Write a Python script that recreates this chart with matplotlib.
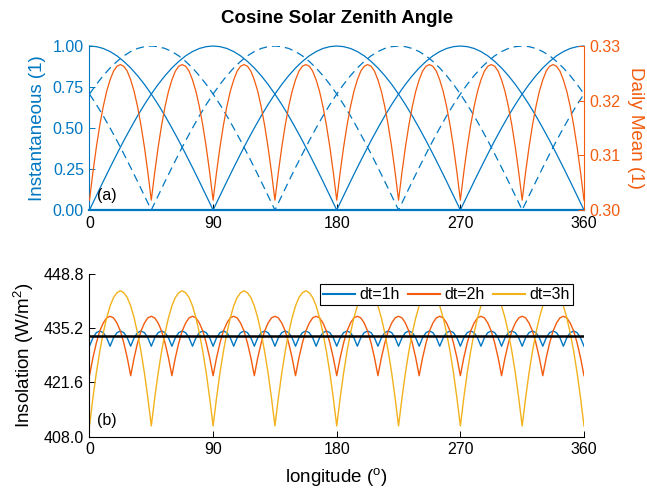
import matplotlib
matplotlib.use('Agg')
import matplotlib.pyplot as plt
import numpy as np

plt.rcParams['font.family'] = ['Liberation Sans', 'DejaVu Sans']
plt.rcParams['mathtext.default'] = 'regular'

# ---------------- data ----------------
# top panel: longitude grid (5 deg) for instantaneous curves
lon_inst = np.arange(0, 361, 5)

inst_sin = [0, .087, .174, .259, .342, .423, .500, .574, .643, .707, .766, .819, .866, .906, .940, .966, .985, .996, 1.0,
            .996, .985, .966, .940, .906, .866, .819, .766, .707, .643, .574, .500, .423, .342, .259, .174, .087, 0,
            .087, .174, .259, .342, .423, .500, .574, .643, .707, .766, .819, .866, .906, .940, .966, .985, .996, 1.0,
            .996, .985, .966, .940, .906, .866, .819, .766, .707, .643, .574, .500, .423, .342, .259, .174, .087, 0]

inst_cos = [1.0, .996, .985, .966, .940, .906, .866, .819, .766, .707, .643, .574, .500, .423, .342, .259, .174, .087, 0,
            .087, .174, .259, .342, .423, .500, .574, .643, .707, .766, .819, .866, .906, .940, .966, .985, .996, 1.0,
            .996, .985, .966, .940, .906, .866, .819, .766, .707, .643, .574, .500, .423, .342, .259, .174, .087, 0,
            .087, .174, .259, .342, .423, .500, .574, .643, .707, .766, .819, .866, .906, .940, .966, .985, .996, 1.0]

inst_dash1 = [.707, .766, .819, .866, .906, .940, .966, .985, .996, 1.0, .996, .985, .966, .940, .906, .866, .819, .766,
              .707, .643, .574, .500, .423, .342, .259, .174, .087, 0, .087, .174, .259, .342, .423, .500, .574, .643,
              .707, .766, .819, .866, .906, .940, .966, .985, .996, 1.0, .996, .985, .966, .940, .906, .866, .819, .766,
              .707, .643, .574, .500, .423, .342, .259, .174, .087, 0, .087, .174, .259, .342, .423, .500, .574, .643,
              .707]

inst_dash2 = [.707, .643, .574, .500, .423, .342, .259, .174, .087, 0, .087, .174, .259, .342, .423, .500, .574, .643,
              .707, .766, .819, .866, .906, .940, .966, .985, .996, 1.0, .996, .985, .966, .940, .906, .866, .819, .766,
              .707, .643, .574, .500, .423, .342, .259, .174, .087, 0, .087, .174, .259, .342, .423, .500, .574, .643,
              .707, .766, .819, .866, .906, .940, .966, .985, .996, 1.0, .996, .985, .966, .940, .906, .866, .819, .766,
              .707]

# fine longitude grid (2.5 deg) for daily mean / insolation
lon_fine = np.arange(0, 360.01, 2.5)

daily_mean = [
    0.3018, 0.3069, 0.3115, 0.3155, 0.3189, 0.3217, 0.3238, 0.3254, 0.3263, 0.3266, 0.3263, 0.3254, 0.3238, 0.3217, 0.3189, 0.3155, 0.3115, 0.3069,
    0.3018, 0.3069, 0.3115, 0.3155, 0.3189, 0.3217, 0.3238, 0.3254, 0.3263, 0.3266, 0.3263, 0.3254, 0.3238, 0.3217, 0.3189, 0.3155, 0.3115, 0.3069,
    0.3018, 0.3069, 0.3115, 0.3155, 0.3189, 0.3217, 0.3238, 0.3254, 0.3263, 0.3266, 0.3263, 0.3254, 0.3238, 0.3217, 0.3189, 0.3155, 0.3115, 0.3069,
    0.3018, 0.3069, 0.3115, 0.3155, 0.3189, 0.3217, 0.3238, 0.3254, 0.3263, 0.3266, 0.3263, 0.3254, 0.3238, 0.3217, 0.3189, 0.3155, 0.3115, 0.3069,
    0.3018, 0.3069, 0.3115, 0.3155, 0.3189, 0.3217, 0.3238, 0.3254, 0.3263, 0.3266, 0.3263, 0.3254, 0.3238, 0.3217, 0.3189, 0.3155, 0.3115, 0.3069,
    0.3018, 0.3069, 0.3115, 0.3155, 0.3189, 0.3217, 0.3238, 0.3254, 0.3263, 0.3266, 0.3263, 0.3254, 0.3238, 0.3217, 0.3189, 0.3155, 0.3115, 0.3069,
    0.3018, 0.3069, 0.3115, 0.3155, 0.3189, 0.3217, 0.3238, 0.3254, 0.3263, 0.3266, 0.3263, 0.3254, 0.3238, 0.3217, 0.3189, 0.3155, 0.3115, 0.3069,
    0.3018, 0.3069, 0.3115, 0.3155, 0.3189, 0.3217, 0.3238, 0.3254, 0.3263, 0.3266, 0.3263, 0.3254, 0.3238, 0.3217, 0.3189, 0.3155, 0.3115, 0.3069,
    0.3018]

insol_1h = [
    430.7, 432.8, 434.1, 434.5, 434.1, 432.8, 430.7, 432.8, 434.1, 434.5, 434.1, 432.8,
    430.7, 432.8, 434.1, 434.5, 434.1, 432.8, 430.7, 432.8, 434.1, 434.5, 434.1, 432.8,
    430.7, 432.8, 434.1, 434.5, 434.1, 432.8, 430.7, 432.8, 434.1, 434.5, 434.1, 432.8,
    430.7, 432.8, 434.1, 434.5, 434.1, 432.8, 430.7, 432.8, 434.1, 434.5, 434.1, 432.8,
    430.7, 432.8, 434.1, 434.5, 434.1, 432.8, 430.7, 432.8, 434.1, 434.5, 434.1, 432.8,
    430.7, 432.8, 434.1, 434.5, 434.1, 432.8, 430.7, 432.8, 434.1, 434.5, 434.1, 432.8,
    430.7, 432.8, 434.1, 434.5, 434.1, 432.8, 430.7, 432.8, 434.1, 434.5, 434.1, 432.8,
    430.7, 432.8, 434.1, 434.5, 434.1, 432.8, 430.7, 432.8, 434.1, 434.5, 434.1, 432.8,
    430.7, 432.8, 434.1, 434.5, 434.1, 432.8, 430.7, 432.8, 434.1, 434.5, 434.1, 432.8,
    430.7, 432.8, 434.1, 434.5, 434.1, 432.8, 430.7, 432.8, 434.1, 434.5, 434.1, 432.8,
    430.7, 432.8, 434.1, 434.5, 434.1, 432.8, 430.7, 432.8, 434.1, 434.5, 434.1, 432.8,
    430.7, 432.8, 434.1, 434.5, 434.1, 432.8, 430.7, 432.8, 434.1, 434.5, 434.1, 432.8,
    430.7]

insol_2h = [
    423.3, 427.8, 431.5, 434.5, 436.5, 437.8, 438.2, 437.8, 436.5, 434.5, 431.5, 427.8,
    423.3, 427.8, 431.5, 434.5, 436.5, 437.8, 438.2, 437.8, 436.5, 434.5, 431.5, 427.8,
    423.3, 427.8, 431.5, 434.5, 436.5, 437.8, 438.2, 437.8, 436.5, 434.5, 431.5, 427.8,
    423.3, 427.8, 431.5, 434.5, 436.5, 437.8, 438.2, 437.8, 436.5, 434.5, 431.5, 427.8,
    423.3, 427.8, 431.5, 434.5, 436.5, 437.8, 438.2, 437.8, 436.5, 434.5, 431.5, 427.8,
    423.3, 427.8, 431.5, 434.5, 436.5, 437.8, 438.2, 437.8, 436.5, 434.5, 431.5, 427.8,
    423.3, 427.8, 431.5, 434.5, 436.5, 437.8, 438.2, 437.8, 436.5, 434.5, 431.5, 427.8,
    423.3, 427.8, 431.5, 434.5, 436.5, 437.8, 438.2, 437.8, 436.5, 434.5, 431.5, 427.8,
    423.3, 427.8, 431.5, 434.5, 436.5, 437.8, 438.2, 437.8, 436.5, 434.5, 431.5, 427.8,
    423.3, 427.8, 431.5, 434.5, 436.5, 437.8, 438.2, 437.8, 436.5, 434.5, 431.5, 427.8,
    423.3, 427.8, 431.5, 434.5, 436.5, 437.8, 438.2, 437.8, 436.5, 434.5, 431.5, 427.8,
    423.3, 427.8, 431.5, 434.5, 436.5, 437.8, 438.2, 437.8, 436.5, 434.5, 431.5, 427.8,
    423.3]

insol_3h = [
    410.7, 417.7, 424.0, 429.4, 434.0, 437.8, 440.8, 442.9, 444.1, 444.6, 444.1, 442.9, 440.8, 437.8, 434.0, 429.4, 424.0, 417.7,
    410.7, 417.7, 424.0, 429.4, 434.0, 437.8, 440.8, 442.9, 444.1, 444.6, 444.1, 442.9, 440.8, 437.8, 434.0, 429.4, 424.0, 417.7,
    410.7, 417.7, 424.0, 429.4, 434.0, 437.8, 440.8, 442.9, 444.1, 444.6, 444.1, 442.9, 440.8, 437.8, 434.0, 429.4, 424.0, 417.7,
    410.7, 417.7, 424.0, 429.4, 434.0, 437.8, 440.8, 442.9, 444.1, 444.6, 444.1, 442.9, 440.8, 437.8, 434.0, 429.4, 424.0, 417.7,
    410.7, 417.7, 424.0, 429.4, 434.0, 437.8, 440.8, 442.9, 444.1, 444.6, 444.1, 442.9, 440.8, 437.8, 434.0, 429.4, 424.0, 417.7,
    410.7, 417.7, 424.0, 429.4, 434.0, 437.8, 440.8, 442.9, 444.1, 444.6, 444.1, 442.9, 440.8, 437.8, 434.0, 429.4, 424.0, 417.7,
    410.7, 417.7, 424.0, 429.4, 434.0, 437.8, 440.8, 442.9, 444.1, 444.6, 444.1, 442.9, 440.8, 437.8, 434.0, 429.4, 424.0, 417.7,
    410.7, 417.7, 424.0, 429.4, 434.0, 437.8, 440.8, 442.9, 444.1, 444.6, 444.1, 442.9, 440.8, 437.8, 434.0, 429.4, 424.0, 417.7,
    410.7]

insol_mean = 433.2
legend_labels = ['dt=1h', 'dt=2h', 'dt=3h']
x_ticks = [0, 90, 180, 270, 360]
left_ticks = [0, 0.25, 0.5, 0.75, 1.0]
right_ticks = [0.30, 0.31, 0.32, 0.33]
insol_ticks = [408.0, 421.6, 435.2, 448.8]

# ---------------- style ----------------
BLUE = '#0077C2'
ORANGE = '#F25C0F'
YELLOW = '#F2B21C'
TFS = 11.5
LFS = 13.5

fig = plt.figure(figsize=(6.47, 4.93), dpi=100)

# ---------- top panel ----------
ax1 = fig.add_axes([0.1383, 0.574, 0.7643, 0.3327])
ax1.plot(lon_inst, inst_cos, color=BLUE, lw=0.9, clip_on=False)
ax1.plot(lon_inst, inst_sin, color=BLUE, lw=0.9, clip_on=False)
ax1.plot(lon_inst, inst_dash1, color=BLUE, lw=0.9, ls=(0, (6.5, 4)))
ax1.plot(lon_inst, inst_dash2, color=BLUE, lw=0.9, ls=(0, (6.5, 4)))
ax1.set_xlim(0, 360)
ax1.set_ylim(0, 1)
ax1.set_xticks(x_ticks)
ax1.set_yticks(left_ticks)
ax1.set_yticklabels(['%.2f' % v for v in left_ticks])
for s in ['top', 'right']:
    ax1.spines[s].set_visible(False)
ax1.spines['left'].set_color(BLUE)
ax1.spines['left'].set_linewidth(0.8)
ax1.spines['bottom'].set_color(BLUE)
ax1.spines['bottom'].set_linewidth(1.6)
ax1.tick_params(axis='x', direction='in', length=4, width=0.7, colors='black', labelsize=TFS, pad=4)
ax1.tick_params(axis='y', direction='in', length=4, width=0.7, colors=BLUE, labelsize=TFS, pad=4)
ax1.set_ylabel('Instantaneous (1)', color=BLUE, fontsize=LFS, labelpad=5)
ax1.text(5.3, 0.09, '(a)', fontsize=TFS, ha='left', va='center')

ax2 = ax1.twinx()
ax2.plot(lon_fine, daily_mean, color=ORANGE, lw=0.9)
ax2.set_ylim(0.30, 0.33)
ax2.set_yticks(right_ticks)
ax2.set_yticklabels(['%.2f' % v for v in right_ticks])
for s in ['top', 'left', 'bottom']:
    ax2.spines[s].set_visible(False)
ax2.spines['right'].set_color(ORANGE)
ax2.spines['right'].set_linewidth(0.8)
ax2.tick_params(axis='y', direction='in', length=4, width=0.7, colors=ORANGE, labelsize=TFS, pad=4)
ax2.set_ylabel('Daily Mean (1)', color=ORANGE, fontsize=LFS, rotation=270, labelpad=17)

fig.text(0.5204, 0.963, 'Cosine Solar Zenith Angle', fontsize=13.5, fontweight='bold',
         ha='center', va='center')

# ---------- bottom panel ----------
ax3 = fig.add_axes([0.1383, 0.1142, 0.7643, 0.330])
l1, = ax3.plot(lon_fine, insol_1h, color=BLUE, lw=1.0)
l2, = ax3.plot(lon_fine, insol_2h, color=ORANGE, lw=1.0)
l3, = ax3.plot(lon_fine, insol_3h, color=YELLOW, lw=1.0)
ax3.axhline(insol_mean, color='black', lw=1.8)
ax3.set_xlim(0, 360)
ax3.set_ylim(408.0, 448.8)
ax3.set_xticks(x_ticks)
ax3.set_yticks(insol_ticks)
ax3.set_yticklabels(['%.1f' % v for v in insol_ticks])
for s in ['top', 'right']:
    ax3.spines[s].set_visible(False)
for s in ['left', 'bottom']:
    ax3.spines[s].set_linewidth(0.8)
ax3.tick_params(direction='in', length=4, width=0.7, labelsize=TFS, pad=4)
ax3.set_xlabel('longitude ($^o$)', fontsize=LFS, labelpad=6)
ax3.set_ylabel('Insolation (W/m$^2$)', fontsize=LFS, labelpad=5)
ax3.text(5.3, 412.0, '(b)', fontsize=TFS, ha='left', va='center')

leg = ax3.legend([l1, l2, l3], legend_labels, ncol=3, loc='upper right',
                 bbox_to_anchor=(0.978, 0.9385), borderaxespad=0, fontsize=TFS,
                 handlelength=2.0, handletextpad=0.3, columnspacing=0.5,
                 borderpad=0.2, fancybox=False, edgecolor='black', framealpha=1)
leg.get_frame().set_linewidth(0.8)
for h in leg.get_lines():
    h.set_linewidth(1.5)

fig.savefig('out.png', dpi=100)
